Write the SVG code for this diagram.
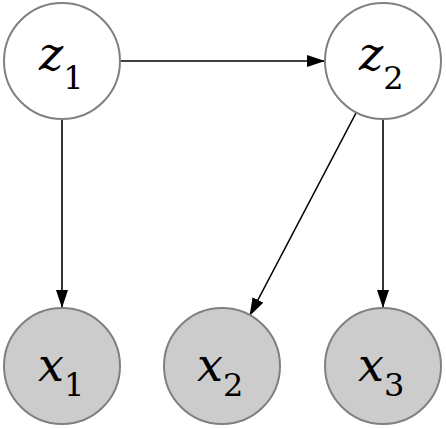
<svg xmlns="http://www.w3.org/2000/svg" width="446" height="428" viewBox="0 0 446 428">
<style>
.node{stroke:#808080;stroke-width:2}
.latent{fill:#ffffff}
.obs{fill:#cccccc}
.lbl{font-family:"DejaVu Serif",serif;font-style:italic;font-size:46px;fill:#000}
.sub{font-style:normal;font-size:32px}
.edge{stroke:#000;stroke-width:1.6;fill:none;marker-end:url(#ah)}
</style>
<defs>
<marker id="ah" markerWidth="18" markerHeight="12" refX="17" refY="6" orient="auto" markerUnits="userSpaceOnUse">
<path d="M0,0 L18,6 L0,12 Z" fill="#000"/>
</marker>
</defs>
<g id="connectors">
<line class="edge" x1="120" y1="61" x2="324" y2="61"/>
<line class="edge" x1="62" y1="119" x2="62" y2="307"/>
<line class="edge" x1="356" y1="113" x2="250" y2="315"/>
<line class="edge" x1="383" y1="119" x2="383" y2="307"/>
</g>
<g id="z1">
<circle class="node latent" cx="62" cy="61" r="58"/>
<text class="lbl" x="39" y="70">z<tspan class="sub" dy="19">1</tspan></text>
</g>
<g id="z2">
<circle class="node latent" cx="383" cy="61" r="58"/>
<text class="lbl" x="359" y="70">z<tspan class="sub" dy="19">2</tspan></text>
</g>
<g id="x1">
<circle class="node obs" cx="62" cy="366" r="58"/>
<text class="lbl" x="38" y="381">x<tspan class="sub" dy="15">1</tspan></text>
</g>
<g id="x2">
<circle class="node obs" cx="222" cy="366" r="58"/>
<text class="lbl" x="197" y="381">x<tspan class="sub" dy="15">2</tspan></text>
</g>
<g id="x3">
<circle class="node obs" cx="383" cy="366" r="58"/>
<text class="lbl" x="358" y="381">x<tspan class="sub" dy="15">3</tspan></text>
</g>
</svg>
